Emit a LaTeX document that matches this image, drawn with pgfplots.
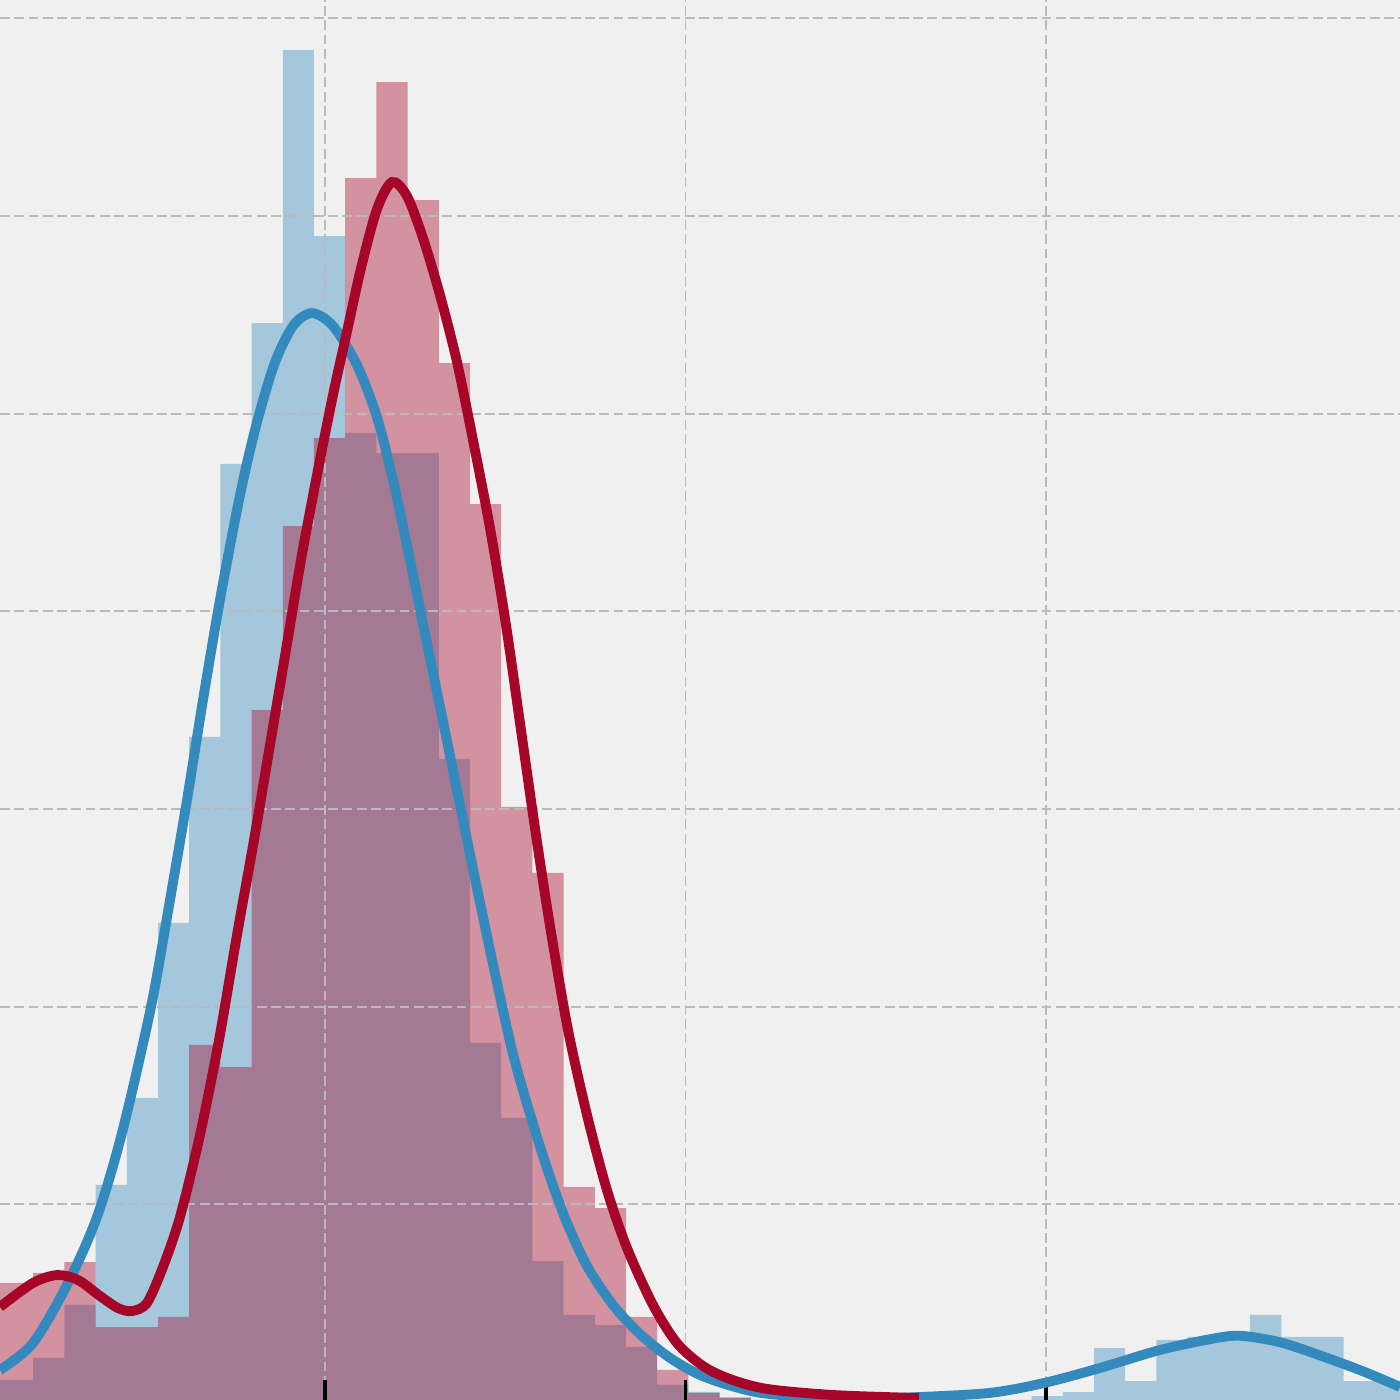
\documentclass[border=0pt]{standalone}
\usepackage{pgfplots}
\pgfplotsset{compat=1.18}

\definecolor{bmhblue}{HTML}{348ABD}
\definecolor{bmhred}{HTML}{A60628}
\definecolor{bgcol}{HTML}{F0F0F0}
\definecolor{gridcol}{HTML}{BABABA}

% histogram bins: left edge, height (last row closes the final bin)
\pgfplotstableread{
x h
0.0175 0.111
0.1040 0.111
0.1906 0.223
0.2771 0.491
0.3637 1.098
0.4502 1.538
0.5368 2.423
0.6233 3.364
0.7099 4.745
0.7964 5.458
0.8830 6.839
0.9695 5.898
1.0561 4.901
1.1426 4.800
1.2292 4.800
1.3157 3.252
1.4023 1.816
1.4888 1.437
1.5754 0.713
1.6619 0.440
1.7485 0.389
1.8350 0.278
1.9216 0.086
2.0081 0.051
2.0947 0.025
2.1812 0
2.2678 0
2.3543 0
2.4409 0
2.5274 0
2.6140 0
2.7005 0
2.7871 0
2.8736 0
2.9602 0.03
3.0467 0.05
3.1333 0.273
3.2198 0.106
3.3064 0.314
3.3929 0.329
3.4795 0.329
3.5660 0.440
3.6526 0.329
3.7391 0.329
3.8257 0.106
3.9122 0.106
3.9988 0
}\bluehist

\pgfplotstableread{
x h
0.0175 0.602
0.1040 0.602
0.1906 0.653
0.2771 0.708
0.3637 0.379
0.4502 0.379
0.5368 0.430
0.6233 1.806
0.7099 1.694
0.7964 3.500
0.8830 4.431
0.9695 4.876
1.0561 6.191
1.1426 6.677
1.2292 6.080
1.3157 5.255
1.4023 4.542
1.4888 3.010
1.5754 2.676
1.6619 1.088
1.7485 0.981
1.8350 0.430
1.9216 0.162
2.0081 0.046
2.0947 0.020
2.1812 0
}\redhist

\pgfplotsset{
    frame/.style={
        width=10cm, height=10cm, scale only axis,
        xmin=0.0985, xmax=3.982,
        ymin=0.01, ymax=7.092,
    },
}

\begin{document}
\begin{tikzpicture}
% histograms, with the grid drawn over them
\begin{axis}[
    frame,
    xtick={1,2,3}, ytick={1,2,3,4,5,6,7},
    xticklabels={}, yticklabels={},
    xtick pos=bottom, ytick pos=left,
    tick align=inside,
    major tick length=4pt,
    xtick style={black, line width=0.8pt},
    ytick style={draw=none},
    grid=major,
    major grid style={gridcol, line width=0.4pt, dash pattern=on 2pt off 0.9pt},
    axis line style={draw=none},
    axis background/.style={fill=bgcol},
    axis on top,
]
\coordinate (sw) at (rel axis cs:0,0);
\coordinate (ne) at (rel axis cs:1,1);
\addplot[ybar interval, fill=bmhblue, fill opacity=0.4, draw=none] table[x=x, y=h] {\bluehist};
\addplot[ybar interval, fill=bmhred, fill opacity=0.4, draw=none] table[x=x, y=h] {\redhist};
\end{axis}

% density curves
\begin{axis}[frame, hide axis]
\addplot[bmhblue, line width=2pt, smooth] coordinates {
(0.0985,0.162) (0.1900,0.298) (0.2871,0.602) (0.3676,0.936) (0.4369,1.361)
(0.5173,1.998) (0.5700,2.539) (0.6172,3.045) (0.6616,3.551) (0.7087,4.057)
(0.7614,4.562) (0.8058,4.917) (0.8585,5.245) (0.9112,5.443) (0.9639,5.508)
(1.0222,5.443) (1.0888,5.245) (1.1442,4.982) (1.1886,4.664) (1.2358,4.259)
(1.2829,3.839) (1.3301,3.419) (1.3773,2.994) (1.4244,2.575) (1.4743,2.145)
(1.5215,1.760) (1.5687,1.457) (1.6158,1.184) (1.6657,0.931) (1.7268,0.688)
(1.7989,0.491) (1.8738,0.344) (1.9570,0.223) (2.0402,0.137) (2.1373,0.076)
(2.2344,0.040) (2.4563,0.015) (2.6477,0.025) (2.8447,0.046) (2.9945,0.096)
(3.1498,0.172) (3.3162,0.263) (3.4743,0.324) (3.5464,0.334) (3.6574,0.298)
(3.7961,0.212) (3.8904,0.147) (3.9820,0.076)
};
\addplot[bmhred, line width=2pt, smooth] coordinates {
(0.0985,0.481) (0.1900,0.602) (0.2566,0.642) (0.3149,0.617) (0.3759,0.536)
(0.4258,0.475) (0.4646,0.460) (0.5062,0.501) (0.5506,0.683) (0.5978,0.936)
(0.6533,1.351) (0.7060,1.831) (0.7559,2.362) (0.8031,2.843) (0.8474,3.323)
(0.8918,3.804) (0.9334,4.259) (0.9778,4.689) (1.0222,5.094) (1.0583,5.392)
(1.1000,5.736) (1.1443,6.034) (1.1859,6.171) (1.2275,6.100) (1.2718,5.888)
(1.3190,5.599) (1.3662,5.261) (1.4105,4.866) (1.4577,4.421) (1.5021,3.930)
(1.5437,3.399) (1.5853,2.868) (1.6269,2.377) (1.6741,1.882) (1.7268,1.452)
(1.7822,1.072) (1.8377,0.779) (1.9098,0.491) (1.9764,0.298) (2.0485,0.182)
(2.1234,0.116) (2.2261,0.066) (2.4119,0.035) (2.6477,0.020)
};
\end{axis}
\pgfresetboundingbox
\path[use as bounding box] (sw) rectangle (ne);
\end{tikzpicture}
\end{document}
